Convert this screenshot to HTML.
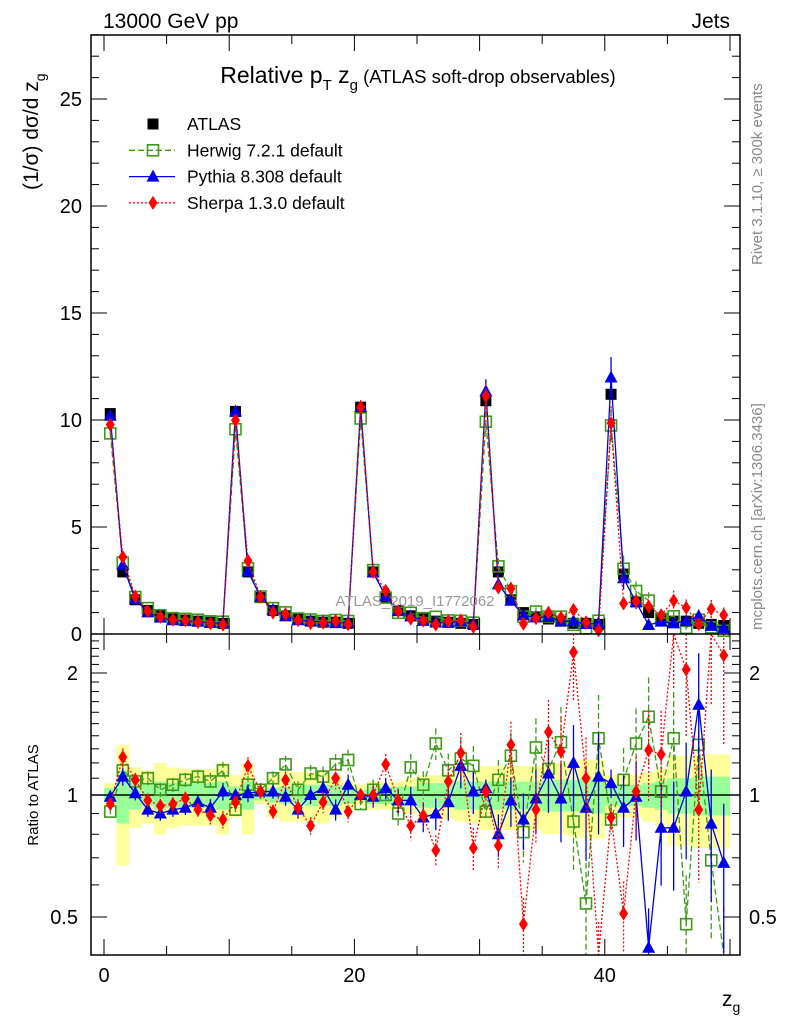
<!DOCTYPE html>
<html><head><meta charset="utf-8"><style>
html,body{margin:0;padding:0;background:#fff;}
svg{display:block;font-family:"Liberation Sans",Arial,sans-serif;}
</style></head><body>
<svg id="chart" width="786" height="1024" viewBox="0 0 786 1024" xmlns="http://www.w3.org/2000/svg">
<rect x="0" y="0" width="786" height="1024" fill="#fff"/>
<text x="103" y="28" font-size="21">13000 GeV pp</text>
<text x="730" y="28" font-size="21" text-anchor="end">Jets</text>
<text x="418" y="83" font-size="23" text-anchor="middle">Relative p<tspan font-size="15" dy="7">T</tspan><tspan dy="-7"> z</tspan><tspan font-size="15" dy="7">g</tspan><tspan font-size="18.5" dy="-7"> (ATLAS soft-drop observables)</tspan></text>
<text transform="translate(38,190) rotate(-90)" font-size="21">(1/σ) dσ/d z<tspan font-size="14" dy="7">g</tspan></text>
<text transform="translate(38,795) rotate(-90)" font-size="15" text-anchor="middle">Ratio to ATLAS</text>
<text x="722" y="1006" font-size="21">z<tspan font-size="14" dy="6">g</tspan></text>
<text transform="translate(762,265) rotate(-90)" font-size="15" fill="#888">Rivet 3.1.10, ≥ 300k events</text>
<text transform="translate(762,630) rotate(-90)" font-size="15" fill="#888">mcplots.cern.ch [arXiv:1306.3436]</text>
<g id="bands"></g><g id="marks"></g><g id="axes"></g>
<text x="415" y="606" font-size="15" fill="#999" text-anchor="middle">ATLAS_2019_I1772062</text>
<g id="legend"></g>
</svg>
<script>
const dataVals=[10.3,2.9,1.6,1.1,0.85,0.7,0.65,0.6,0.55,0.5,
10.4,2.9,1.7,1.1,0.85,0.7,0.6,0.55,0.55,0.5,
10.6,2.9,1.7,1.1,0.85,0.7,0.6,0.55,0.5,0.45,
10.9,2.9,1.6,1.0,0.8,0.7,0.6,0.5,0.5,0.45,
11.2,2.8,1.5,1.0,0.7,0.6,0.6,0.5,0.45,0.4];
const herwigRatio=[0.91,1.15,1.08,1.10,1.03,1.06,1.09,1.11,1.08,1.15,
0.92,1.06,1.03,1.10,1.19,1.03,1.13,1.11,1.19,1.22,
0.95,1.03,1.0,0.90,1.17,1.06,1.34,1.15,1.23,1.18,
0.91,1.09,1.25,0.81,1.31,1.16,1.35,0.86,0.54,1.38,
0.87,1.09,1.34,1.56,1.02,1.38,0.48,1.33,0.69,0.38];
const pythiaRatio=[0.99,1.11,1.01,0.92,0.90,0.92,0.93,0.96,0.93,1.02,
1.0,1.01,1.02,1.02,0.99,0.92,1.0,1.04,0.92,1.06,
1.0,0.99,1.04,0.97,0.97,0.88,0.90,0.96,1.18,1.02,
1.04,0.80,0.97,0.87,0.98,1.13,0.98,1.20,0.93,1.11,
1.07,0.93,0.99,0.42,0.83,0.83,1.02,1.67,0.85,0.68];
const sherpaRatio=[0.95,1.24,1.09,0.97,0.94,0.95,0.98,0.92,0.89,0.87,
0.96,1.18,1.02,0.91,1.09,0.93,0.84,0.96,1.10,0.91,
1.0,1.0,1.19,0.97,0.84,0.89,0.73,1.08,1.27,0.74,
1.02,0.75,1.33,0.48,0.92,1.43,1.28,2.25,1.10,0.38,
0.88,0.51,1.02,1.29,1.26,2.6,2.04,0.92,2.6,2.21];
const totErr=[0.07,0.33,0.17,0.15,0.2,0.17,0.16,0.16,0.16,0.2,
0.12,0.2,0.05,0.12,0.14,0.14,0.14,0.15,0.12,0.08,
0.06,0.08,0.08,0.08,0.1,0.12,0.12,0.13,0.14,0.15,
0.18,0.18,0.18,0.18,0.18,0.2,0.2,0.21,0.22,0.22,
0.12,0.12,0.12,0.14,0.16,0.25,0.25,0.26,0.26,0.26];
const statErr=[0.04,0.15,0.08,0.06,0.08,0.07,0.07,0.07,0.07,0.08,
0.05,0.08,0.03,0.04,0.05,0.05,0.06,0.06,0.06,0.05,
0.03,0.05,0.05,0.05,0.05,0.07,0.07,0.07,0.08,0.08,
0.08,0.08,0.08,0.08,0.08,0.09,0.09,0.09,0.1,0.1,
0.06,0.06,0.06,0.07,0.08,0.1,0.1,0.11,0.11,0.11];
const mcErr=[0.02,0.05,0.04,0.04,0.04,0.04,0.04,0.04,0.05,0.05,
0.02,0.05,0.04,0.04,0.05,0.05,0.05,0.06,0.06,0.06,
0.03,0.06,0.06,0.07,0.08,0.08,0.09,0.1,0.12,0.12,
0.05,0.12,0.14,0.16,0.18,0.2,0.22,0.24,0.26,0.28,
0.08,0.2,0.22,0.25,0.28,0.3,0.32,0.34,0.36,0.4];
const yTicksTop=[0,5,10,15,20,25];
const yTicksRatio=[0.5,1,2];
const xTicks=[0,20,40];

const NS="http://www.w3.org/2000/svg";
const L=91,R=740,T=35,M=634,B=955;
const xs=v=>104+12.52*v;
const yTop=v=>634-21.4*v;
const yRat=v=>795-122*Math.log2(v);
function mk(tag,attrs,parent){const e=document.createElementNS(NS,tag);for(const k in attrs)e.setAttribute(k,attrs[k]);parent.appendChild(e);return e;}
const bands=document.getElementById('bands'),marks=document.getElementById('marks'),axes=document.getElementById('axes'),legend=document.getElementById('legend');
const clipT=v=>Math.max(T,Math.min(M,v)), clipB=v=>Math.max(M,Math.min(B,v));

dataVals.forEach((d,i)=>{
  const x0=xs(i),w=12.52;
  let r=mk('rect',{x:x0,y:yRat(1+totErr[i]),width:w,height:yRat(1-totErr[i])-yRat(1+totErr[i]),fill:'#ffff99'},bands);
  
  
  let g=mk('rect',{x:x0,y:yRat(1+statErr[i]),width:w,height:yRat(1-statErr[i])-yRat(1+statErr[i]),fill:'#99ff99'},bands);
  
  
});
mk('line',{x1:L,x2:R,y1:yRat(1),y2:yRat(1),stroke:'#000','stroke-width':1.5},bands);

const series=[
 {name:'herwig',ratio:herwigRatio,color:'#3c9a18',dash:'6,3',marker:'sq'},
 {name:'pythia',ratio:pythiaRatio,color:'#0000e6',dash:'',marker:'tri'},
 {name:'sherpa',ratio:sherpaRatio,color:'#ff0000',dash:'2,2',marker:'dia'}];
function marker(type,x,y,c,parent,name){
  let e;
  if(type==='sq')e=mk('rect',{x:x-5.5,y:y-5.5,width:11,height:11,fill:'none',stroke:c,'stroke-width':1.6},parent);
  else if(type==='tri')e=mk('polygon',{points:`${x},${y-7} ${x-6.5},${y+5} ${x+6.5},${y+5}`,fill:c},parent);
  else if(type==='dia')e=mk('polygon',{points:`${x},${y-7} ${x-4.5},${y} ${x},${y+7} ${x+4.5},${y}`,fill:c},parent);
  else e=mk('rect',{x:x-5.5,y:y-5.5,width:11,height:11,fill:c},parent);
  
  
}
series.forEach(s=>{
  const g=mk('g',{},marks);
  
  
  let pt=[],pb=[];
  dataVals.forEach((d,i)=>{
    const x=xs(i+0.5),v=d*s.ratio[i],r=s.ratio[i],e=mcErr[i];
    pt.push(x+','+clipT(yTop(v)));pb.push(x+','+clipB(yRat(r)));
    mk('line',{x1:x,x2:x,y1:clipT(yTop(v*(1+e))),y2:clipT(yTop(v*(1-e))),stroke:s.color,'stroke-width':1.3,'stroke-dasharray':s.dash},g);
    mk('line',{x1:x,x2:x,y1:clipB(yRat(r*(1+e))),y2:clipB(yRat(Math.max(0.01,r*(1-e)))),stroke:s.color,'stroke-width':1.3,'stroke-dasharray':s.dash},g);
  });
  mk('polyline',{points:pt.join(' '),fill:'none',stroke:s.color,'stroke-width':1.3,'stroke-dasharray':s.dash},g);
  mk('polyline',{points:pb.join(' '),fill:'none',stroke:s.color,'stroke-width':1.3,'stroke-dasharray':s.dash},g);
  dataVals.forEach((d,i)=>{
    const x=xs(i+0.5),v=d*s.ratio[i],r=s.ratio[i];
    const y1=yTop(v); if(y1>=T&&y1<=M)marker(s.marker,x,y1,s.color,g,s.name+'-point');
    const y2=yRat(r); if(y2>=M&&y2<=B)marker(s.marker,x,y2,s.color,g,s.name+'-ratio-point');
  });
});
const dg=mk('g',{},marks);


dataVals.forEach((d,i)=>{marker('data',xs(i+0.5),yTop(d),'#000',dg,'atlas-point');});
marks.insertBefore(dg,marks.firstChild);

mk('rect',{x:L,y:T,width:R-L,height:B-T,fill:'none',stroke:'#000','stroke-width':1.5},axes);
mk('line',{x1:L,x2:R,y1:M,y2:M,stroke:'#000','stroke-width':1.5},axes);
for(let v=0;v<=28;v++){const y=yTop(v);const len=v%5===0?16:8;
  mk('line',{x1:L,x2:L+len,y1:y,y2:y,stroke:'#000','stroke-width':1},axes);
  mk('line',{x1:R,x2:R-len,y1:y,y2:y,stroke:'#000','stroke-width':1},axes);}
yTicksTop.forEach(v=>{const t=mk('text',{x:82,y:yTop(v)+7,'font-size':20,'text-anchor':'end'},axes);t.textContent=v;
  });
for(let v=0.4;v<=2.5;v+=0.1){const y=yRat(v);if(y<M||y>B)continue;const maj=[0.5,1,2].some(m=>Math.abs(m-v)<1e-6);const len=maj?16:8;
  mk('line',{x1:L,x2:L+len,y1:y,y2:y,stroke:'#000','stroke-width':1},axes);
  mk('line',{x1:R,x2:R-len,y1:y,y2:y,stroke:'#000','stroke-width':1},axes);}
yTicksRatio.forEach(v=>{
  const t=mk('text',{x:78,y:yRat(v)+7,'font-size':20,'text-anchor':'end'},axes);t.textContent=v;
  
  const t2=mk('text',{x:749,y:yRat(v)+7,'font-size':20},axes);t2.textContent=v;
  });
for(let v=0;v<=50;v+=5){const x=xs(v);const len=v%10===0?16:9;
  [[T,1],[M,-1],[M,1],[B,-1]].forEach(([y,d])=>mk('line',{x1:x,x2:x,y1:y,y2:y+d*len,stroke:'#000','stroke-width':1},axes));}
xTicks.forEach(v=>{const t=mk('text',{x:xs(v),y:982,'font-size':20,'text-anchor':'middle'},axes);t.textContent=v;
  });

const leg=[['ATLAS','data','#000',''],['Herwig 7.2.1 default','sq','#3c9a18','6,3'],['Pythia 8.308 default','tri','#0000e6',''],['Sherpa 1.3.0 default','dia','#ff0000','2,2']];
leg.forEach((l,i)=>{const y=124+i*26.3;const g=mk('g',{},legend);
  
  
  if(i>0)mk('line',{x1:129,x2:175,y1:y,y2:y,stroke:l[2],'stroke-width':1.3,'stroke-dasharray':l[3]},g);
  marker(l[1],153,y,l[2],g,'legend-marker');
  const t=mk('text',{x:187,y:y+6,'font-size':17.5},g);t.textContent=l[0];});
</script>
</body></html>
